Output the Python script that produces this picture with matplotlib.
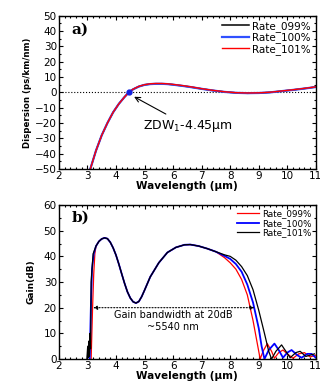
import numpy as np
import matplotlib
matplotlib.use("Agg")
import matplotlib.pyplot as plt
from matplotlib.ticker import MultipleLocator

# ---- panel a) dispersion ----
disp_x = [3.1, 3.3, 3.5, 3.7, 3.9, 4.1, 4.3, 4.45, 4.6, 4.8, 5.0, 5.2, 5.4, 5.6,
          5.8, 6.0, 6.3, 6.6, 7.0, 7.4, 7.8, 8.2, 8.6, 9.0, 9.4, 9.8, 10.2, 10.6, 11.0]
disp_099 = [-50, -38, -28, -20, -13, -7.5, -3, 0, 2, 3.8, 4.9, 5.4, 5.6, 5.6,
            5.4, 5.0, 4.3, 3.5, 2.3, 1.2, 0.3, -0.3, -0.6, -0.5, 0, 0.8, 1.6, 2.5, 3.5]
disp_100 = [-50, -38, -28, -20, -13, -7.5, -3, 0, 2, 3.8, 4.9, 5.4, 5.6, 5.6,
            5.4, 5.0, 4.3, 3.5, 2.3, 1.2, 0.3, -0.3, -0.5, -0.4, 0, 0.8, 1.6, 2.5, 3.5]
disp_101 = [-50, -38, -28, -20, -13, -7.5, -3, 0, 2.1, 3.9, 5.0, 5.6, 5.8, 5.8,
            5.6, 5.2, 4.5, 3.7, 2.4, 1.3, 0.4, -0.2, -0.4, -0.3, 0.1, 0.9, 1.7, 2.6, 3.6]

# ---- panel b) gain ----
common_x = [3.3, 3.4, 3.5, 3.6, 3.7, 3.8, 3.9, 4.0, 4.1, 4.2, 4.3, 4.4, 4.5, 4.6,
            4.7, 4.8, 4.9, 5.0, 5.2, 5.5, 5.8, 6.1, 6.4, 6.6, 6.9, 7.2, 7.5]
common_g = [44, 45.8, 46.8, 47.2, 46.9, 45.5, 43.3, 40.5, 37, 33.2, 29.5, 26.2, 23.8, 22.3,
            21.8, 22.4, 24.3, 26.8, 32, 37.5, 41.5, 43.5, 44.5, 44.6, 44, 43, 41.8]

red_x = [3.13, 3.18, 3.22, 3.26] + common_x + [7.8, 8.0, 8.2, 8.4, 8.6, 8.8, 8.95, 9.05,
         9.15, 9.3, 9.45, 9.55, 9.7, 9.85, 10.0, 10.2, 10.4, 10.6, 10.8, 11.0]
red_g = [0, 20, 33, 41] + common_g + [39.5, 37.5, 35, 31, 25, 15, 6, 0,
         3, 6, 3, 0.3, 2.5, 3.5, 2, 0.3, 2, 2.5, 0.8, 1.5]

blue_x = [3.08, 3.12, 3.16, 3.22] + common_x + [7.8, 8.0, 8.2, 8.4, 8.6, 8.8, 9.0, 9.1,
          9.2, 9.35, 9.55, 9.7, 9.85, 10.0, 10.15, 10.35, 10.5, 10.7, 10.85, 11.0]
blue_g = [0, 20, 35, 41] + common_g + [40.2, 39, 37, 34, 29, 22, 12, 5,
          0, 3.5, 6, 3.5, 0.5, 2.5, 3.5, 1.5, 0.5, 2, 2, 0.5]

black_x = [2.98, 3.01, 3.03, 3.05, 3.07, 3.09, 3.11, 3.13, 3.2] + common_x + [7.8, 8.0,
           8.2, 8.4, 8.6, 8.8, 9.0, 9.2, 9.35, 9.45, 9.6, 9.8, 9.95, 10.1, 10.3, 10.45,
           10.65, 10.8, 10.95]
black_g = [0, 5, 0.5, 7, 1, 10, 4, 30, 41] + common_g + [40.6, 40,
           38.5, 36, 32.5, 27, 19, 10, 3, 0, 3, 5.5, 3, 0.5, 2.5, 3, 1, 1.5, 2]

labels = ["Rate_099%", "Rate_100%", "Rate_101%"]

plt.rcParams['font.family'] = ['DejaVu Sans']
plt.rcParams['mathtext.fontset'] = 'dejavusans'

fig = plt.figure(figsize=(3.2, 3.88), dpi=100)
ax1 = fig.add_axes([0.184, 0.5644, 0.803, 0.3951])
ax2 = fig.add_axes([0.184, 0.0747, 0.803, 0.3969])


def style(ax):
    ax.tick_params(which='both', direction='in', top=True, right=True,
                   labelsize=7.5, pad=1.5, width=0.8)
    ax.tick_params(which='major', length=3)
    ax.tick_params(which='minor', length=1.5)
    ax.xaxis.set_major_locator(MultipleLocator(1))
    ax.xaxis.set_minor_locator(MultipleLocator(0.2))
    for s in ax.spines.values():
        s.set_linewidth(1.0)
    ax.set_xlim(2, 11)


# top panel
ax1.axhline(0, color='black', lw=0.8, ls=':')
ax1.plot(disp_x, disp_099, color='black', lw=1.1, label=labels[0])
ax1.plot(disp_x, disp_100, color='#3050ff', lw=1.6, label=labels[1])
ax1.plot(disp_x, disp_101, color='red', lw=1.0, label=labels[2])
ax1.plot([4.45], [0], 'o', color='#1020e0', ms=3.5)
ax1.annotate("ZDW$_1$-4.45\u03bcm", xy=(4.55, -2), xytext=(4.95, -24),
             fontsize=9, arrowprops=dict(arrowstyle='->', color='black', lw=0.8))
ax1.text(2.45, 41, "a)", fontsize=11, fontweight='bold', family='DejaVu Serif',
         va='center')
ax1.set_ylim(-50, 50)
ax1.yaxis.set_major_locator(MultipleLocator(10))
ax1.yaxis.set_minor_locator(MultipleLocator(5))
style(ax1)
ax1.set_xlabel("Wavelength (\u03bcm)", fontsize=7.5, fontweight='bold', labelpad=0)
ax1.set_ylabel("Dispersion (ps/km/nm)", fontsize=6.2, fontweight='bold', labelpad=2)
ax1.legend(loc='upper right', frameon=False, fontsize=7.5, handlelength=2.6,
           borderaxespad=0.1, labelspacing=0.05, handletextpad=0.3)

# bottom panel
ax2.plot(red_x, red_g, color='red', lw=0.9, label=labels[0])
ax2.plot(blue_x, blue_g, color='blue', lw=1.3, label=labels[1])
ax2.plot(black_x, black_g, color='black', lw=0.9, label=labels[2])
ax2.annotate("", xy=(3.2, 20), xytext=(8.85, 20),
             arrowprops=dict(arrowstyle='<|-|>', color='black', lw=0.8, ls=':',
                             mutation_scale=6, shrinkA=0, shrinkB=0))
ax2.text(6.0, 17.3, "Gain bandwidth at 20dB", fontsize=7, ha='center', va='center')
ax2.text(6.0, 12.6, "~5540 nm", fontsize=7, ha='center', va='center')
ax2.text(2.45, 55, "b)", fontsize=11, fontweight='bold', family='DejaVu Serif',
         va='center')
ax2.set_ylim(0, 60)
ax2.yaxis.set_major_locator(MultipleLocator(10))
ax2.yaxis.set_minor_locator(MultipleLocator(5))
style(ax2)
ax2.set_xlabel("Wavelength (\u03bcm)", fontsize=7.5, fontweight='bold', labelpad=0)
ax2.set_ylabel("Gain(dB)", fontsize=6.5, fontweight='bold', labelpad=6)
ax2.legend(loc='upper right', frameon=False, fontsize=6.3, handlelength=2.6,
           borderaxespad=0.1, labelspacing=0.05, handletextpad=0.3)

fig.savefig("out.png", dpi=100)
